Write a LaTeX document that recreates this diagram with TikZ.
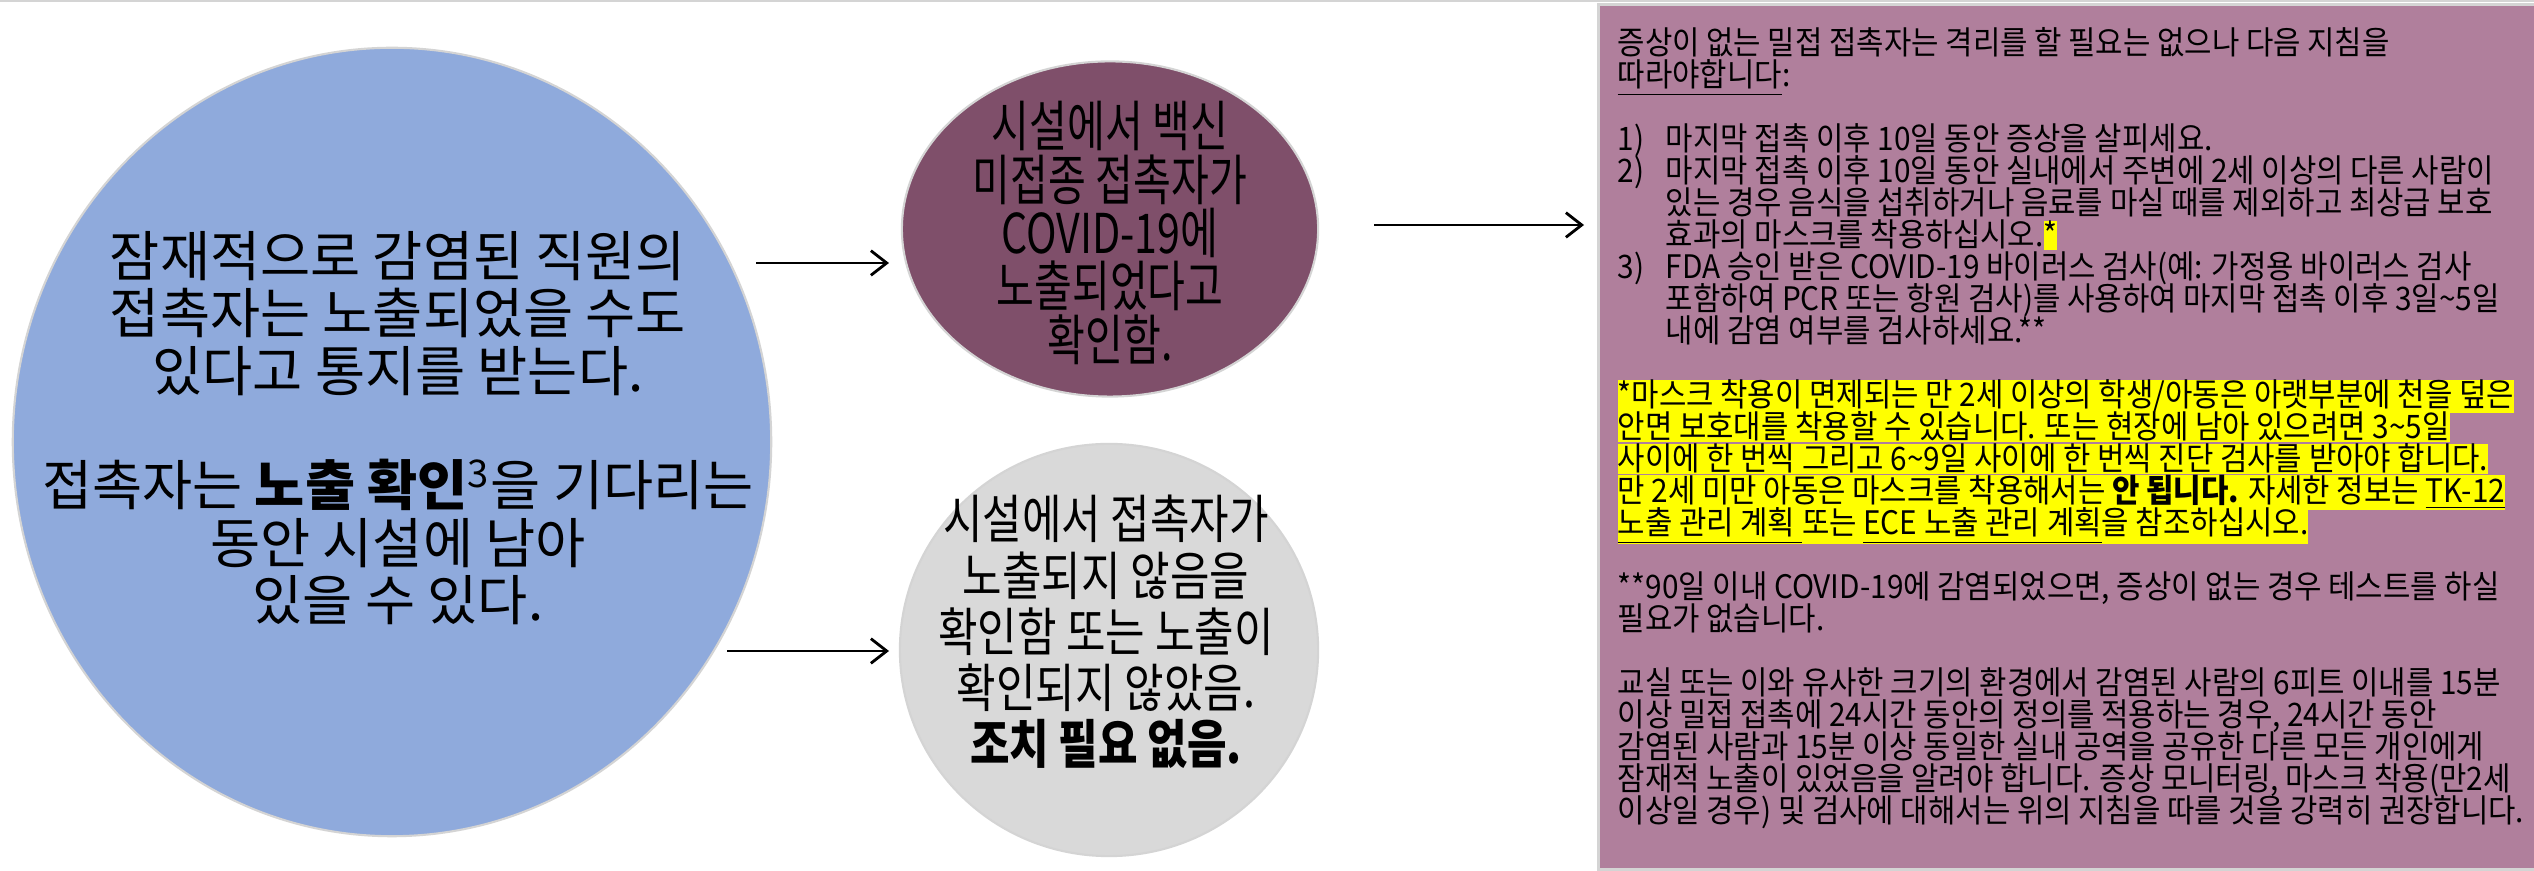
\documentclass[tikz,border=0pt]{standalone}
\usepackage{fontspec}
\setmainfont{Noto Sans CJK KR}
\newfontfamily\krA{Noto Sans CJK KR}
\newfontfamily\krP{Noto Sans CJK KR}[FakeStretch=0.75]
\newfontfamily\krG{Noto Sans CJK KR}[FakeStretch=0.82]
\newfontfamily\krB{Noto Sans CJK KR}[FakeStretch=0.92]
\usetikzlibrary{shapes.geometric,arrows.meta}
\definecolor{blueF}{HTML}{8FAADC}
\definecolor{purpF}{HTML}{7F4F6A}
\definecolor{greyF}{HTML}{D9D9D9}
\definecolor{boxF}{HTML}{B07F9C}
\definecolor{edgeC}{HTML}{D4D4D4}
\definecolor{hlY}{HTML}{FFFF00}
\setlength\fboxsep{0pt}
\newcommand\hlt[1]{\smash{\colorbox{hlY}{\rule[-0.9pt]{0pt}{8.0pt}#1}}}
\newcommand\tld{\textasciitilde}
\newcommand\ind{\hspace*{13.7pt}}
\newcommand\itm[1]{\makebox[13.7pt][l]{#1}}
\newcommand\tightlines{\lineskiplimit=-100pt\relax}
\tikzset{
  bubble/.style={ellipse, draw=edgeC, line width=0.6pt, inner sep=0pt},
  conn/.style={-{Straight Barb[length=4.5pt,width=7pt]}, line width=0.8pt, black},
  txt/.style={inner sep=0pt, align=center, text=black}
}
\begin{document}
\begin{tikzpicture}[x=0.01cm, y=-0.01cm]
\path[use as bounding box, fill=white] (0,0) rectangle (2534,871);
\draw[edgeC, line width=0.6pt] (0,1) -- (2534,1);
% shapes
\node[bubble, fill=blueF, minimum width=7.58cm, minimum height=7.88cm] (blue) at (392,442) {};
\node[bubble, fill=purpF, minimum width=4.16cm, minimum height=3.35cm] (purp) at (1110,229) {};
\node[bubble, fill=greyF, minimum width=4.18cm, minimum height=4.12cm] (grey) at (1109,650) {};
\node[draw=edgeC, fill=boxF, line width=0.85pt, anchor=north west, inner sep=0pt,
      minimum width=9.39cm, minimum height=8.65cm] (box) at (1597,3) {};
% texts
\node[txt, font=\krA\fontsize{15.5}{16.3}\selectfont\tightlines] (bluetxt) at (398,428)
  {잠재적으로 감염된 직원의\\
   접촉자는 노출되었을 수도\\
   있다고 통지를 받는다.\\[16.3pt]
   접촉자는 \textbf{노출 확인}\textsuperscript{3}을 기다리는\\
   동안 시설에 남아\\
   있을 수 있다.};
\node[txt, font=\krP\fontsize{15.6}{15.2}\selectfont\tightlines] (purptxt) at (1110,233)
  {시설에서 백신\\미접종 접촉자가\\COVID-19에\\노출되었다고\\확인함.};
\node[txt, font=\krG\fontsize{14.9}{16.0}\selectfont\tightlines] (greytxt) at (1106,632)
  {시설에서 접촉자가\\노출되지 않음을\\확인함 또는 노출이\\확인되지 않았음.\\\textbf{조치 필요 없음.}};
\node[inner sep=0pt, anchor=north west, align=left, text=black,
      font=\krB\fontsize{9.2}{9.1}\selectfont\tightlines] (boxtxt) at (1617,27)
  {증상이 없는 밀접 접촉자는 격리를 할 필요는 없으나 다음 지침을\\
   \underline{따라야합니다}:\\
   \mbox{}\\
   \itm{1)}마지막 접촉 이후 10일 동안 증상을 살피세요.\\
   \itm{2)}마지막 접촉 이후 10일 동안 실내에서 주변에 2세 이상의 다른 사람이\\
   \ind 있는 경우 음식을 섭취하거나 음료를 마실 때를 제외하고 최상급 보호\\
   \ind 효과의 마스크를 착용하십시오.\hlt{*}\\
   \itm{3)}FDA 승인 받은 COVID-19 바이러스 검사(예: 가정용 바이러스 검사\\
   \ind 포함하여 PCR 또는 항원 검사)를 사용하여 마지막 접촉 이후 3일\tld 5일\\
   \ind 내에 감염 여부를 검사하세요.**\\
   \mbox{}\\
   \hlt{*마스크 착용이 면제되는 만 2세 이상의 학생/아동은 아랫부분에 천을 덮은}\\
   \hlt{안면 보호대를 착용할 수 있습니다. 또는 현장에 남아 있으려면 3\tld 5일}\\
   \hlt{사이에 한 번씩 그리고 6\tld 9일 사이에 한 번씩 진단 검사를 받아야 합니다.}\\
   \hlt{만 2세 미만 아동은 마스크를 착용해서는 \textbf{안 됩니다.} 자세한 정보는 \underline{TK-12}}\\
   \hlt{\underline{노출 관리 계획 }또는 \underline{ECE 노출 관리 계획}을 참조하십시오.}\\
   \mbox{}\\
   **90일 이내 COVID-19에 감염되었으면, 증상이 없는 경우 테스트를 하실\\
   필요가 없습니다.\\
   \mbox{}\\
   교실 또는 이와 유사한 크기의 환경에서 감염된 사람의 6피트 이내를 15분\\
   이상 밀접 접촉에 24시간 동안의 정의를 적용하는 경우, 24시간 동안\\
   감염된 사람과 15분 이상 동일한 실내 공역을 공유한 다른 모든 개인에게\\
   잠재적 노출이 있었음을 알려야 합니다. 증상 모니터링, 마스크 착용(만2세\\
   이상일 경우) 및 검사에 대해서는 위의 지침을 따를 것을 강력히 권장합니다.};
% connectors
\coordinate (a1s) at (756,263);
\coordinate (a1e) at (889,263);
\coordinate (a2s) at (727,651);
\coordinate (a2e) at (889,651);
\coordinate (a3s) at (1374,225);
\coordinate (a3e) at (1584,225);
\draw[conn] (a1s) -- (a1e);
\draw[conn] (a2s) -- (a2e);
\draw[conn] (a3s) -- (a3e);
\end{tikzpicture}
\end{document}
